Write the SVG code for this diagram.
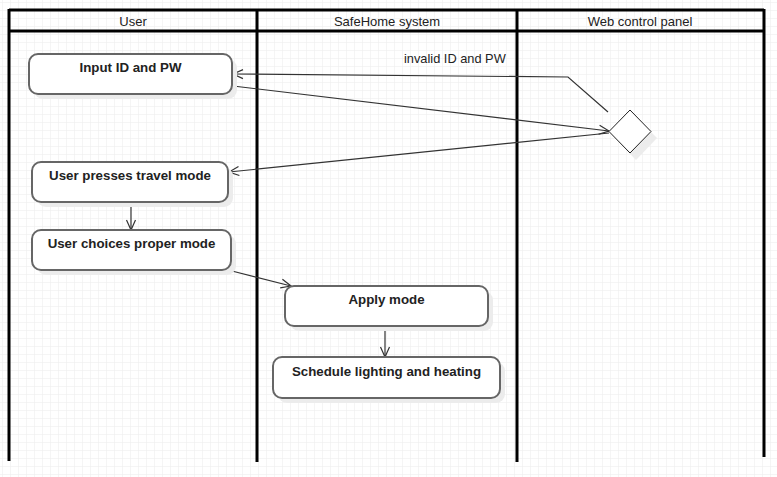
<svg xmlns="http://www.w3.org/2000/svg" width="777" height="477" viewBox="0 0 777 477">
<style>
.hdr{font-family:"Liberation Sans",Arial,sans-serif;font-size:13px;fill:#222;text-anchor:middle}
.lbl{font-family:"Liberation Sans",Arial,sans-serif;font-size:13.3px;font-weight:bold;fill:#222;text-anchor:middle}
.elbl{font-family:"Liberation Sans",Arial,sans-serif;font-size:12.8px;fill:#222}
.box{fill:#fff;stroke:#666;stroke-width:2}
.shadow{fill:#ececec}
.lane{stroke:#000;stroke-width:3;fill:none}
.conn{stroke:#333;stroke-width:1.2;fill:none;marker-end:url(#arr)}
.plain{stroke:#333;stroke-width:1.2;fill:none}
</style>
<defs>
<pattern id="grid" width="8" height="8" patternUnits="userSpaceOnUse" x="2" y="2">
<path d="M0,0 H8 M0,0 V8" stroke="#ececec" stroke-width="1" fill="none"/>
</pattern>
<marker id="arr" viewBox="-12 -7 14 14" refX="0" refY="0" markerWidth="14" markerHeight="14" orient="auto" markerUnits="userSpaceOnUse">
<path d="M-10,-4.5 L0,0 L-10,4.5" fill="none" stroke="#333" stroke-width="1.2"/>
</marker>
</defs>
<rect width="777" height="477" fill="#fff"/>
<rect width="777" height="477" fill="url(#grid)"/>
<g id="lanes">
<line class="lane" x1="9" y1="10" x2="764" y2="10"/>
<line class="lane" x1="9" y1="31" x2="764" y2="31"/>
<line class="lane" x1="9" y1="9" x2="9" y2="461"/>
<line class="lane" x1="257" y1="9" x2="257" y2="462"/>
<line class="lane" x1="517" y1="9" x2="517" y2="462"/>
<line class="lane" x1="764" y1="9" x2="764" y2="457"/>
<text class="hdr" x="133" y="26">User</text>
<text class="hdr" x="387" y="26">SafeHome system</text>
<text class="hdr" x="640" y="26">Web control panel</text>
</g>
<g id="connectors">
<polyline class="conn" points="608,112 568,77 233,74"/>
<text class="elbl" x="404" y="63">invalid ID and PW</text>
<line class="conn" x1="233" y1="86" x2="609" y2="131"/>
<line class="conn" x1="609" y1="133" x2="229" y2="172"/>
<line class="conn" x1="131" y1="202" x2="131" y2="230"/>
<line class="conn" x1="228" y1="270" x2="291" y2="286"/>
<line class="conn" x1="385" y1="326" x2="385" y2="357"/>
</g>
<g id="input">
<rect class="shadow" x="34" y="59" width="203" height="40" rx="9"/>
<rect class="box" x="29" y="54" width="203" height="40" rx="9"/>
<text class="lbl" x="130.5" y="72">Input ID and PW</text>
</g>
<g id="presses">
<rect class="shadow" x="37" y="167" width="196" height="40" rx="9"/>
<rect class="box" x="32" y="162" width="196" height="40" rx="9"/>
<text class="lbl" x="130" y="180">User presses travel mode</text>
</g>
<g id="choices">
<rect class="shadow" x="37" y="235" width="199" height="40" rx="9"/>
<rect class="box" x="32" y="230" width="199" height="40" rx="9"/>
<text class="lbl" x="131.5" y="248">User choices proper mode</text>
</g>
<g id="apply">
<rect class="shadow" x="290" y="291" width="203" height="40" rx="9"/>
<rect class="box" x="285" y="286" width="203" height="40" rx="9"/>
<text class="lbl" x="386.5" y="304">Apply mode</text>
</g>
<g id="schedule">
<rect class="shadow" x="278" y="362" width="227" height="41" rx="9"/>
<rect class="box" x="273" y="357" width="227" height="41" rx="9"/>
<text class="lbl" x="386.5" y="376">Schedule lighting and heating</text>
</g>
<g id="decision">
<polygon points="636,117 657,138 636,160 615,138" fill="#ececec"/>
<polygon points="630,110 651,131.5 630,153 609,131.5" fill="#fff" stroke="#222" stroke-width="1"/>
</g>
</svg>
